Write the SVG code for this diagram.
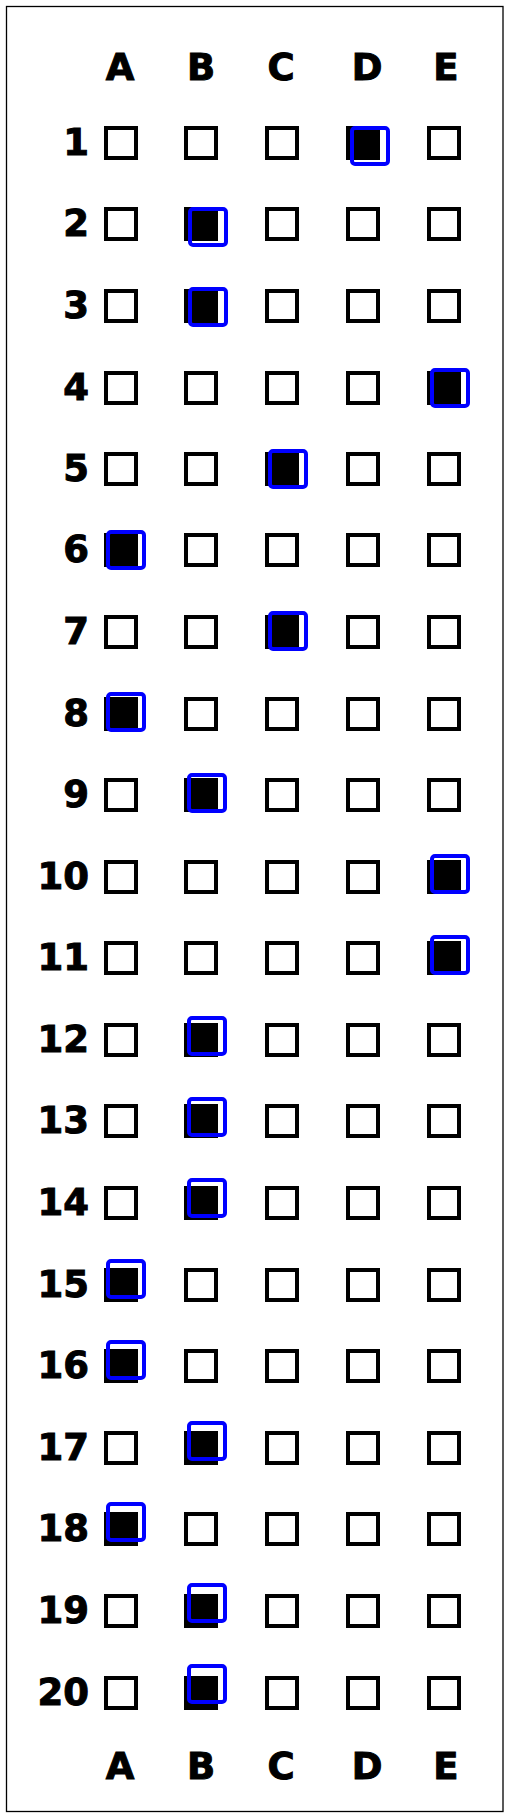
<svg xmlns="http://www.w3.org/2000/svg" width="508" height="1818" viewBox="0 0 508 1818">
<style>
.bg{fill:#fff}
.frame{fill:none;stroke:#000;stroke-width:1.3}
.box{fill:none;stroke:#000;stroke-width:4}
.fill{fill:#000;stroke:#000;stroke-width:4}
.mark{fill:none;stroke:#0000ff;stroke-width:4}
.num{font-family:"DejaVu Sans","Liberation Sans",sans-serif;font-weight:bold;font-size:37px;text-anchor:end;fill:#000;stroke:#000;stroke-width:1}
.hdr{font-family:"DejaVu Sans","Liberation Sans",sans-serif;font-weight:bold;font-size:37px;text-anchor:middle;fill:#000;stroke:#000;stroke-width:1}
</style>
<defs>
<rect id="b" class="box" x="0" y="0" width="30" height="30"/>
<rect id="f" class="fill" x="0" y="0" width="30" height="30"/>
<rect id="m" class="mark" x="0" y="0" width="36" height="36" rx="3"/>
</defs>
<rect class="bg" x="0" y="0" width="508" height="1818"/>
<rect class="frame" x="6.5" y="6.5" width="496.5" height="1805"/>
<g id="header-top">
<text class="hdr" x="120" y="80">A</text>
<text class="hdr" x="201" y="80">B</text>
<text class="hdr" x="281" y="80">C</text>
<text class="hdr" x="367" y="80">D</text>
<text class="hdr" x="446" y="80">E</text>
</g>
<g id="header-bottom">
<text class="hdr" x="120" y="1779">A</text>
<text class="hdr" x="201" y="1779">B</text>
<text class="hdr" x="281" y="1779">C</text>
<text class="hdr" x="367" y="1779">D</text>
<text class="hdr" x="446" y="1779">E</text>
</g>
<g id="row1" transform="translate(0,126)">
<text class="num" x="89" y="28.5">1</text>
<use href="#b" x="106" y="2"/><use href="#b" x="186" y="2"/><use href="#b" x="267" y="2"/><use href="#f" x="348" y="2"/><use href="#b" x="429" y="2"/>
<use href="#m" x="352" y="2"/>
</g>
<g id="row2" transform="translate(0,207)">
<text class="num" x="89" y="28.5">2</text>
<use href="#b" x="106" y="2"/><use href="#f" x="186" y="2"/><use href="#b" x="267" y="2"/><use href="#b" x="348" y="2"/><use href="#b" x="429" y="2"/>
<use href="#m" x="190" y="2"/>
</g>
<g id="row3" transform="translate(0,289)">
<text class="num" x="89" y="28.5">3</text>
<use href="#b" x="106" y="2"/><use href="#f" x="186" y="2"/><use href="#b" x="267" y="2"/><use href="#b" x="348" y="2"/><use href="#b" x="429" y="2"/>
<use href="#m" x="190" y="0"/>
</g>
<g id="row4" transform="translate(0,371)">
<text class="num" x="89" y="28.5">4</text>
<use href="#b" x="106" y="2"/><use href="#b" x="186" y="2"/><use href="#b" x="267" y="2"/><use href="#b" x="348" y="2"/><use href="#f" x="429" y="2"/>
<use href="#m" x="432" y="-1"/>
</g>
<g id="row5" transform="translate(0,452)">
<text class="num" x="89" y="28.5">5</text>
<use href="#b" x="106" y="2"/><use href="#b" x="186" y="2"/><use href="#f" x="267" y="2"/><use href="#b" x="348" y="2"/><use href="#b" x="429" y="2"/>
<use href="#m" x="270" y="-1"/>
</g>
<g id="row6" transform="translate(0,533)">
<text class="num" x="89" y="28.5">6</text>
<use href="#f" x="106" y="2"/><use href="#b" x="186" y="2"/><use href="#b" x="267" y="2"/><use href="#b" x="348" y="2"/><use href="#b" x="429" y="2"/>
<use href="#m" x="108" y="-1"/>
</g>
<g id="row7" transform="translate(0,615)">
<text class="num" x="89" y="28.5">7</text>
<use href="#b" x="106" y="2"/><use href="#b" x="186" y="2"/><use href="#f" x="267" y="2"/><use href="#b" x="348" y="2"/><use href="#b" x="429" y="2"/>
<use href="#m" x="270" y="-2"/>
</g>
<g id="row8" transform="translate(0,697)">
<text class="num" x="89" y="28.5">8</text>
<use href="#f" x="106" y="2"/><use href="#b" x="186" y="2"/><use href="#b" x="267" y="2"/><use href="#b" x="348" y="2"/><use href="#b" x="429" y="2"/>
<use href="#m" x="108" y="-3"/>
</g>
<g id="row9" transform="translate(0,778)">
<text class="num" x="89" y="28.5">9</text>
<use href="#b" x="106" y="2"/><use href="#f" x="186" y="2"/><use href="#b" x="267" y="2"/><use href="#b" x="348" y="2"/><use href="#b" x="429" y="2"/>
<use href="#m" x="189" y="-3"/>
</g>
<g id="row10" transform="translate(0,860)">
<text class="num" x="89" y="28.5">10</text>
<use href="#b" x="106" y="2"/><use href="#b" x="186" y="2"/><use href="#b" x="267" y="2"/><use href="#b" x="348" y="2"/><use href="#f" x="429" y="2"/>
<use href="#m" x="432" y="-4"/>
</g>
<g id="row11" transform="translate(0,941)">
<text class="num" x="89" y="28.5">11</text>
<use href="#b" x="106" y="2"/><use href="#b" x="186" y="2"/><use href="#b" x="267" y="2"/><use href="#b" x="348" y="2"/><use href="#f" x="429" y="2"/>
<use href="#m" x="432" y="-4"/>
</g>
<g id="row12" transform="translate(0,1023)">
<text class="num" x="89" y="28.5">12</text>
<use href="#b" x="106" y="2"/><use href="#f" x="186" y="2"/><use href="#b" x="267" y="2"/><use href="#b" x="348" y="2"/><use href="#b" x="429" y="2"/>
<use href="#m" x="189" y="-5"/>
</g>
<g id="row13" transform="translate(0,1104)">
<text class="num" x="89" y="28.5">13</text>
<use href="#b" x="106" y="2"/><use href="#f" x="186" y="2"/><use href="#b" x="267" y="2"/><use href="#b" x="348" y="2"/><use href="#b" x="429" y="2"/>
<use href="#m" x="189" y="-5"/>
</g>
<g id="row14" transform="translate(0,1186)">
<text class="num" x="89" y="28.5">14</text>
<use href="#b" x="106" y="2"/><use href="#f" x="186" y="2"/><use href="#b" x="267" y="2"/><use href="#b" x="348" y="2"/><use href="#b" x="429" y="2"/>
<use href="#m" x="189" y="-6"/>
</g>
<g id="row15" transform="translate(0,1268)">
<text class="num" x="89" y="28.5">15</text>
<use href="#f" x="106" y="2"/><use href="#b" x="186" y="2"/><use href="#b" x="267" y="2"/><use href="#b" x="348" y="2"/><use href="#b" x="429" y="2"/>
<use href="#m" x="108" y="-7"/>
</g>
<g id="row16" transform="translate(0,1349)">
<text class="num" x="89" y="28.5">16</text>
<use href="#f" x="106" y="2"/><use href="#b" x="186" y="2"/><use href="#b" x="267" y="2"/><use href="#b" x="348" y="2"/><use href="#b" x="429" y="2"/>
<use href="#m" x="108" y="-7"/>
</g>
<g id="row17" transform="translate(0,1431)">
<text class="num" x="89" y="28.5">17</text>
<use href="#b" x="106" y="2"/><use href="#f" x="186" y="2"/><use href="#b" x="267" y="2"/><use href="#b" x="348" y="2"/><use href="#b" x="429" y="2"/>
<use href="#m" x="189" y="-8"/>
</g>
<g id="row18" transform="translate(0,1512)">
<text class="num" x="89" y="28.5">18</text>
<use href="#f" x="106" y="2"/><use href="#b" x="186" y="2"/><use href="#b" x="267" y="2"/><use href="#b" x="348" y="2"/><use href="#b" x="429" y="2"/>
<use href="#m" x="108" y="-8"/>
</g>
<g id="row19" transform="translate(0,1594)">
<text class="num" x="89" y="28.5">19</text>
<use href="#b" x="106" y="2"/><use href="#f" x="186" y="2"/><use href="#b" x="267" y="2"/><use href="#b" x="348" y="2"/><use href="#b" x="429" y="2"/>
<use href="#m" x="189" y="-9"/>
</g>
<g id="row20" transform="translate(0,1676)">
<text class="num" x="89" y="28.5">20</text>
<use href="#b" x="106" y="2"/><use href="#f" x="186" y="2"/><use href="#b" x="267" y="2"/><use href="#b" x="348" y="2"/><use href="#b" x="429" y="2"/>
<use href="#m" x="189" y="-10"/>
</g>
</svg>
